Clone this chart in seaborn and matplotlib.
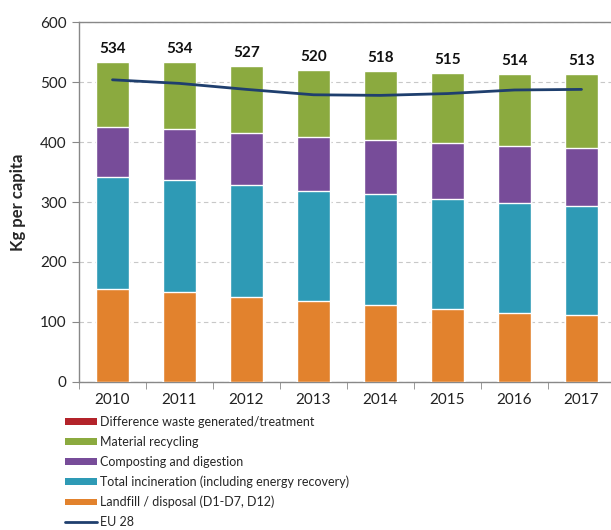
import matplotlib.pyplot as plt
import seaborn as sns
import pandas as pd
import numpy as np
from matplotlib.patches import Patch
from matplotlib.lines import Line2D

# Data (kg per capita)
years = ['2010', '2011', '2012', '2013', '2014', '2015', '2016', '2017']
landfill = [154, 149, 142, 134, 128, 122, 115, 111]
incineration = [187, 188, 186, 185, 185, 183, 183, 182]
composting = [85, 85, 87, 89, 91, 93, 96, 97]
recycling = [108, 112, 112, 112, 114, 117, 120, 123]
difference = [0, 0, 0, 0, 0, 0, 0, 0]
eu28 = [504, 498, 488, 479, 478, 481, 487, 488]

series_names = [
    'Landfill / disposal (D1-D7, D12)',
    'Total incineration (including energy recovery)',
    'Composting and digestion',
    'Material recycling',
    'Difference waste generated/treatment',
]
series_values = [landfill, incineration, composting, recycling, difference]
colors = ['#E2822D', '#2E9AB5', '#774C99', '#8BAA3F', '#B3232A']
line_color = '#1F3F6E'

sns.set_style("white")
plt.rcParams['font.family'] = ['Lato', 'DejaVu Sans']

df = pd.DataFrame({'Year': years})
cum = np.zeros(len(years))
cum_cols = []
for name, vals in zip(series_names, series_values):
    cum = cum + np.array(vals)
    df[name] = cum
    cum_cols.append(name)
totals = df[cum_cols[-1]].values

fig = plt.figure(figsize=(6.11, 5.30), dpi=100)
ax = fig.add_axes([79 / 611, (530 - 381.7) / 530, 536 / 611, 359.4 / 530])

# draw stacked bars from top layer down (overlay of cumulative sums)
for name, col in reversed(list(zip(cum_cols, colors))):
    sns.barplot(data=df, x='Year', y=name, color=col, width=0.48,
                saturation=1, ax=ax, zorder=3)

sns.lineplot(x=years, y=eu28, color=line_color, linewidth=2, sort=False,
             ax=ax, zorder=4)

for i, t in enumerate(totals):
    ax.text(i, t + 10, f'{int(round(t))}', ha='center', va='bottom',
            fontsize=11, fontweight='bold', color='#111111')

ax.set_xlim(-0.5, 7.5)
ax.set_ylim(0, 600)
ax.set_yticks(range(0, 601, 100))
ax.yaxis.grid(True, linestyle=(0, (4, 3)), color='#C8C8C8', linewidth=0.8)
ax.set_axisbelow(True)
ax.set_xlabel('')
ax.set_ylabel('Kg per capita', fontsize=12, fontweight='bold', labelpad=10)
ax.tick_params(axis='both', labelsize=11, colors='#222222')

# category boundary ticks on x axis
ax.set_xticks(range(len(years)))
ax.set_xticklabels(years)
ax.tick_params(axis='x', length=0, pad=8)
ax.set_xticks(np.arange(-0.5, 8, 1), minor=True)
ax.tick_params(axis='x', which='minor', bottom=True, length=5,
               color='#888888', direction='out')
ax.tick_params(axis='y', left=True, length=5, color='#888888',
               direction='out', pad=4)

for side in ['top', 'left', 'bottom', 'right']:
    ax.spines[side].set_color('#888888')
    ax.spines[side].set_linewidth(1)

handles = [Patch(facecolor=c, edgecolor='none') for c in reversed(colors)]
labels = list(reversed(series_names))
handles.append(Line2D([0], [0], color=line_color, linewidth=2))
labels.append('EU 28')
fig.legend(handles, labels, loc='upper left',
           bbox_to_anchor=(54 / 611, (530 - 405) / 530),
           frameon=False, fontsize=9, handlelength=2.5, handleheight=0.45,
           handletextpad=0.3, labelspacing=0.62)

plt.savefig('out.png', dpi=100)
